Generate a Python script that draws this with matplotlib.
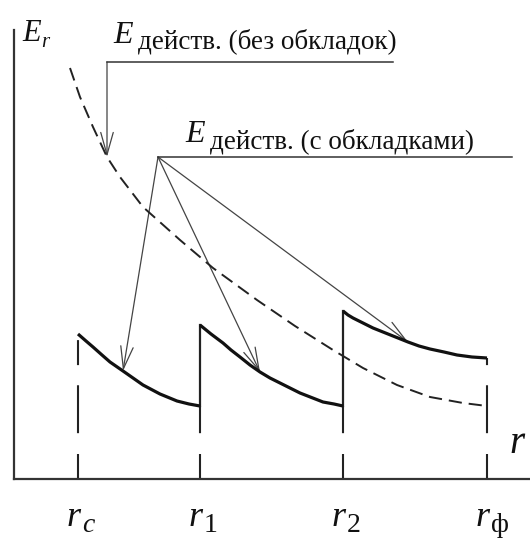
import matplotlib
matplotlib.use('Agg')
import matplotlib.pyplot as plt
from matplotlib.patches import FancyArrowPatch

plt.rcParams['font.family'] = ['Liberation Serif', 'DejaVu Serif']
plt.rcParams['lines.scale_dashes'] = False

# radii of the layer borders (r_c, r_1, r_2, r_ф)
r_ticks = [0.64, 1.86, 3.29, 4.73]
tick_subs = ['c', '1', '2', 'ф']

# E действ. with the layers (three solid pieces)
seg1_r = [0.64, 0.72, 0.79, 0.88, 0.96, 1.09, 1.19, 1.29, 1.46, 1.63, 1.75, 1.86]
seg1_E = [1.45, 1.38, 1.32, 1.24, 1.17, 1.08, 1.01, 0.94, 0.85, 0.78, 0.75, 0.73]
seg2_r = [1.86, 1.97, 2.09, 2.17, 2.26, 2.36, 2.46, 2.56, 2.66, 2.86, 3.09, 3.20, 3.29]
seg2_E = [1.54, 1.45, 1.36, 1.29, 1.22, 1.14, 1.07, 1.01, 0.96, 0.86, 0.77, 0.75, 0.73]
seg3_r = [3.29, 3.34, 3.39, 3.49, 3.59, 3.69, 3.94, 4.05, 4.16, 4.30, 4.43, 4.58, 4.73]
seg3_E = [1.68, 1.64, 1.61, 1.56, 1.51, 1.47, 1.37, 1.33, 1.30, 1.27, 1.24, 1.22, 1.21]
# where the arrows of the second label touch each piece
hit = [5, 6, 6]

# E действ. without the layers (dashed)
env_r = [0.56, 0.66, 0.79, 0.93, 1.06, 1.29, 1.66, 1.99, 2.43, 2.81, 3.19, 3.49,
         3.83, 4.16, 4.49, 4.73]
env_E = [4.11, 3.82, 3.52, 3.22, 3.02, 2.72, 2.39, 2.11, 1.79, 1.53, 1.29, 1.11,
         0.94, 0.82, 0.76, 0.73]

label_free = 'действ. (без обкладок)'
label_layers = 'действ. (с обкладками)'

fig = plt.figure(figsize=(5.3, 5.39), dpi=100)
ax = fig.add_axes([14 / 530, 60 / 539, 516 / 530, 449 / 539])
ax.set_xlim(0, 5.16)
ax.set_ylim(0, 4.49)
for s in ['top', 'right']:
    ax.spines[s].set_visible(False)
for s in ['left', 'bottom']:
    ax.spines[s].set_linewidth(1.6)
    ax.spines[s].set_color('#333333')
ax.set_xticks([])
ax.set_yticks([])

ink = '#111111'
segs = [(seg1_r, seg1_E), (seg2_r, seg2_E), (seg3_r, seg3_E)]
starts = [s[1][0] for s in segs] + [seg3_E[-1]]
jump_low = [None, seg1_E[-1], seg2_E[-1], None]

# dashed verticals from the axis up
for i, r in enumerate(r_ticks):
    top = jump_low[i] if jump_low[i] is not None else starts[i]
    ax.plot([r, r], [0, top], color='#222222', lw=1.5,
            dashes=[18, 15, 34.5, 14.5], solid_capstyle='butt')
    if jump_low[i] is not None:
        ax.plot([r, r], [jump_low[i], starts[i]], color='#222222', lw=1.6)

for rr, ee in segs:
    ax.plot(rr, ee, color=ink, lw=2.3, solid_capstyle='butt',
            solid_joinstyle='round')

ax.plot(env_r, env_E, color='#222222', lw=1.4, dashes=[9.5, 5])

# leader lines and arrows
ax.plot([env_r[3], 3.79], [4.17, 4.17], color='#333333', lw=1.1)
ax.plot([1.44, 4.98], [3.22, 3.22], color='#333333', lw=1.1)


def arrow(p0, p1):
    a = FancyArrowPatch(p0, p1, arrowstyle='->,head_length=16,head_width=4.5',
                        mutation_scale=1, color='#444444', lw=0.9,
                        shrinkA=0, shrinkB=0)
    ax.add_patch(a)


arrow((env_r[3], 4.17), (env_r[3], env_E[3]))
for (rr, ee), k in zip(segs, hit):
    arrow((1.44, 3.22), (rr[k], ee[k]))

# texts
ax.text(0.08, 4.38, 'E', fontsize=22, style='italic', color=ink)
ax.text(0.27, 4.32, 'r', fontsize=15, style='italic', color=ink)
ax.text(0.99, 4.36, 'E', fontsize=23, style='italic', color=ink)
ax.text(1.24, 4.31, label_free, fontsize=19.5, color=ink)
ax.text(1.71, 3.37, 'E', fontsize=23, style='italic', color=ink)
ax.text(1.96, 3.31, label_layers, fontsize=19.5, color=ink)
ax.text(4.95, 0.26, 'r', fontsize=28, style='italic', color=ink)

for r, sub in zip(r_ticks, tick_subs):
    ax.text(r + 0.03, -0.47, 'r', fontsize=26, style='italic', ha='right',
            color=ink)
    ax.text(r + 0.04, -0.53, sub, fontsize=20, ha='left', color=ink,
            style='italic' if sub == 'c' else 'normal')

fig.savefig('out.png', dpi=100)
